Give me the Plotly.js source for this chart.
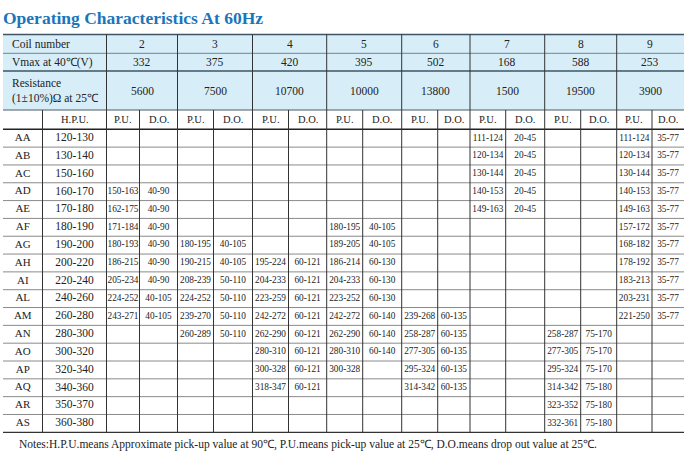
<!DOCTYPE html>
<html><head><meta charset="utf-8">
<script src="https://cdn.plot.ly/plotly-3.0.1.min.js"></script>
<style>html,body{margin:0;padding:0;background:#fff;}#chart{width:689px;height:455px;}</style>
</head><body><div id="chart"></div>
<script>
// ---------- data ----------
const titleText = 'Operating Characteristics At 60Hz';
const coils = ['2','3','4','5','6','7','8','9'];
const vmax = ['332','375','420','395','502','168','588','253'];
const resistance = ['5600','7500','10700','10000','13800','1500','19500','3900'];
const codes = ['AA','AB','AC','AD','AE','AF','AG','AH','AI','AL','AM','AN','AO','AP','AQ','AR','AS'];
const hpu = ['120-130','130-140','150-160','160-170','170-180','180-190','190-200','200-220','220-240','240-260','260-280','280-300','300-320','320-340','340-360','350-370','360-380'];
const pu2 = ['','','','150-163','162-175','171-184','180-193','186-215','205-234','224-252','243-271','','','','','',''];
const do2 = ['','','','40-90','40-90','40-90','40-90','40-90','40-90','40-105','40-105','','','','','',''];
const pu3 = ['','','','','','','180-195','190-215','208-239','224-252','239-270','260-289','','','','',''];
const do3 = ['','','','','','','40-105','40-105','50-110','50-110','50-110','50-110','','','','',''];
const pu4 = ['','','','','','','','195-224','204-233','223-259','242-272','262-290','280-310','300-328','318-347','',''];
const do4 = ['','','','','','','','60-121','60-121','60-121','60-121','60-121','60-121','60-121','60-121','',''];
const pu5 = ['','','','','','180-195','189-205','186-214','204-233','223-252','242-272','262-290','280-310','300-328','','',''];
const do5 = ['','','','','','40-105','40-105','60-130','60-130','60-130','60-140','60-140','60-140','','','',''];
const pu6 = ['','','','','','','','','','','239-268','258-287','277-305','295-324','314-342','',''];
const do6 = ['','','','','','','','','','','60-135','60-135','60-135','60-135','60-135','',''];
const pu7 = ['111-124','120-134','130-144','140-153','149-163','','','','','','','','','','','',''];
const do7 = ['20-45','20-45','20-45','20-45','20-45','','','','','','','','','','','',''];
const pu8 = ['','','','','','','','','','','','258-287','277-305','295-324','314-342','323-352','332-361'];
const do8 = ['','','','','','','','','','','','75-170','75-170','75-170','75-180','75-180','75-180'];
const pu9 = ['111-124','120-134','130-144','140-153','149-163','157-172','168-182','178-192','183-213','203-231','221-250','','','','','',''];
const do9 = ['35-77','35-77','35-77','35-77','35-77','35-77','35-77','35-77','35-77','35-77','35-77','','','','','',''];
const puCols = [pu2,pu3,pu4,pu5,pu6,pu7,pu8,pu9];
const doCols = [do2,do3,do4,do5,do6,do7,do8,do9];
const notesText = 'Notes:H.P.U.means Approximate pick-up value at 90℃, P.U.means pick-up value at 25℃, D.O.means drop out value at 25℃.';

// ---------- layout geometry ----------
const X = [3,42.5,106.5,139.5,177.5,213.5,252.5,288.5,326.7,362.7,401.7,437.7,470,505.7,544.7,580.7,616.7,652,684];
const HY = [34.5,53.3,71,110,129.3];
const bodyTop = 129.3, bodyBot = 432.3;
const rowH = (bodyBot-bodyTop)/codes.length;
const SERIF = 'Liberation Serif, Times New Roman, serif';
const TXT = '#222';

const shapes = [];
const line = (x0,y0,x1,y1,color,w)=>shapes.push({type:'line',xref:'x',yref:'y',x0,y0,x1,y1,line:{color,width:w},layer:'above'});
shapes.push({type:'rect',xref:'x',yref:'y',x0:X[0],x1:X[X.length-1],y0:HY[0],y1:HY[3],fillcolor:'#d7eef9',line:{width:0},layer:'below'});
// header horizontals
line(X[0],HY[0],X[18],HY[0],'#3d5566',1.4);
line(X[0],HY[1],X[18],HY[1],'#6f8592',1);
line(X[0],HY[2],X[18],HY[2],'#3d5566',1.3);
line(X[0],HY[3],X[18],HY[3],'#4a5a64',1);
line(X[0],HY[4],X[18],HY[4],'#222',1.5);
// body horizontals
for(let i=1;i<codes.length;i++){ const y=bodyTop+i*rowH; line(X[0],y,X[18],y,'#8a8a8a',1); }
line(X[0],bodyBot,X[18],bodyBot,'#333',1.2);
// header verticals (coil group edges)
const groupEdges=[2,4,6,8,10,12,14,16];
groupEdges.forEach(k=>line(X[k],HY[0],X[k],HY[3],'#333',1));
// row4 + body verticals
for(let k=1;k<=17;k++){ line(X[k],HY[3],X[k],bodyBot,'#333',1); }

const ann = [];
const txt = (x,y,t,size,anchor)=>ann.push({xref:'x',yref:'y',x,y,text:t,showarrow:false,xanchor:anchor||'center',yanchor:'middle',align:anchor||'center',font:{family:SERIF,size,color:TXT}});
txt(10,(HY[0]+HY[1])/2,'Coil number',11.5,'left');
txt(10,(HY[1]+HY[2])/2,'Vmax at 40℃(V)',11.5,'left');
txt(10,(HY[2]+HY[3])/2,'Resistance<br>(1±10%)Ω at 25℃',11.5,'left');
coils.forEach((c,i)=>{
  const xc=(X[2+2*i]+X[4+2*i])/2;
  txt(xc,(HY[0]+HY[1])/2,c,11.5);
  txt(xc,(HY[1]+HY[2])/2,vmax[i],11.5);
  txt(xc,(HY[2]+HY[3])/2,resistance[i],11.5);
  txt((X[2+2*i]+X[3+2*i])/2,(HY[3]+HY[4])/2,'P.U.',10.5);
  txt((X[3+2*i]+X[4+2*i])/2,(HY[3]+HY[4])/2,'D.O.',10.5);
});
txt((X[1]+X[2])/2,(HY[3]+HY[4])/2,'H.P.U.',10.5);

// body texts via scatter text traces
const bx=[],by=[],bt=[];
codes.forEach((c,r)=>{
  puCols.forEach((col,i)=>{
    const y=bodyTop+(r+0.5)*rowH;
    if(col[r]){bx.push((X[2+2*i]+X[3+2*i])/2);by.push(y);bt.push(col[r]);}
    if(doCols[i][r]){bx.push((X[3+2*i]+X[4+2*i])/2);by.push(y);bt.push(doCols[i][r]);}
  });
});
const rowY = codes.map((c,r)=>bodyTop+(r+0.5)*rowH);
const traces = [
  {type:'scatter',mode:'text',x:codes.map(()=> (X[0]+X[1])/2),y:rowY,text:codes,textfont:{family:SERIF,size:11,color:TXT},hoverinfo:'skip',cliponaxis:false,showlegend:false},
  {type:'scatter',mode:'text',x:hpu.map(()=> (X[1]+X[2])/2),y:rowY,text:hpu,textfont:{family:SERIF,size:11.5,color:TXT},hoverinfo:'skip',cliponaxis:false,showlegend:false},
  {type:'scatter',mode:'text',x:bx,y:by,text:bt,textfont:{family:SERIF,size:9.3,color:TXT},hoverinfo:'skip',cliponaxis:false,showlegend:false}
];
ann.push({xref:'x',yref:'y',x:308,y:444,text:notesText,showarrow:false,xanchor:'center',yanchor:'middle',font:{family:SERIF,size:11.5,color:TXT}});

const layout = {
  width:689,height:455,margin:{l:0,r:0,t:0,b:0},
  paper_bgcolor:'#fff',plot_bgcolor:'#fff',
  title:{text:'<b>'+titleText+'</b>',x:3/689,xanchor:'left',xref:'paper',y:1-18/455,yref:'container',yanchor:'middle',font:{family:SERIF,size:17.5,color:'#1b75bb'}},
  xaxis:{range:[0,689],visible:false,fixedrange:true},
  yaxis:{range:[455,0],visible:false,fixedrange:true},
  shapes,annotations:ann,showlegend:false
};
Plotly.newPlot('chart',traces,layout,{displayModeBar:false,staticPlot:true});
</script></body></html>
